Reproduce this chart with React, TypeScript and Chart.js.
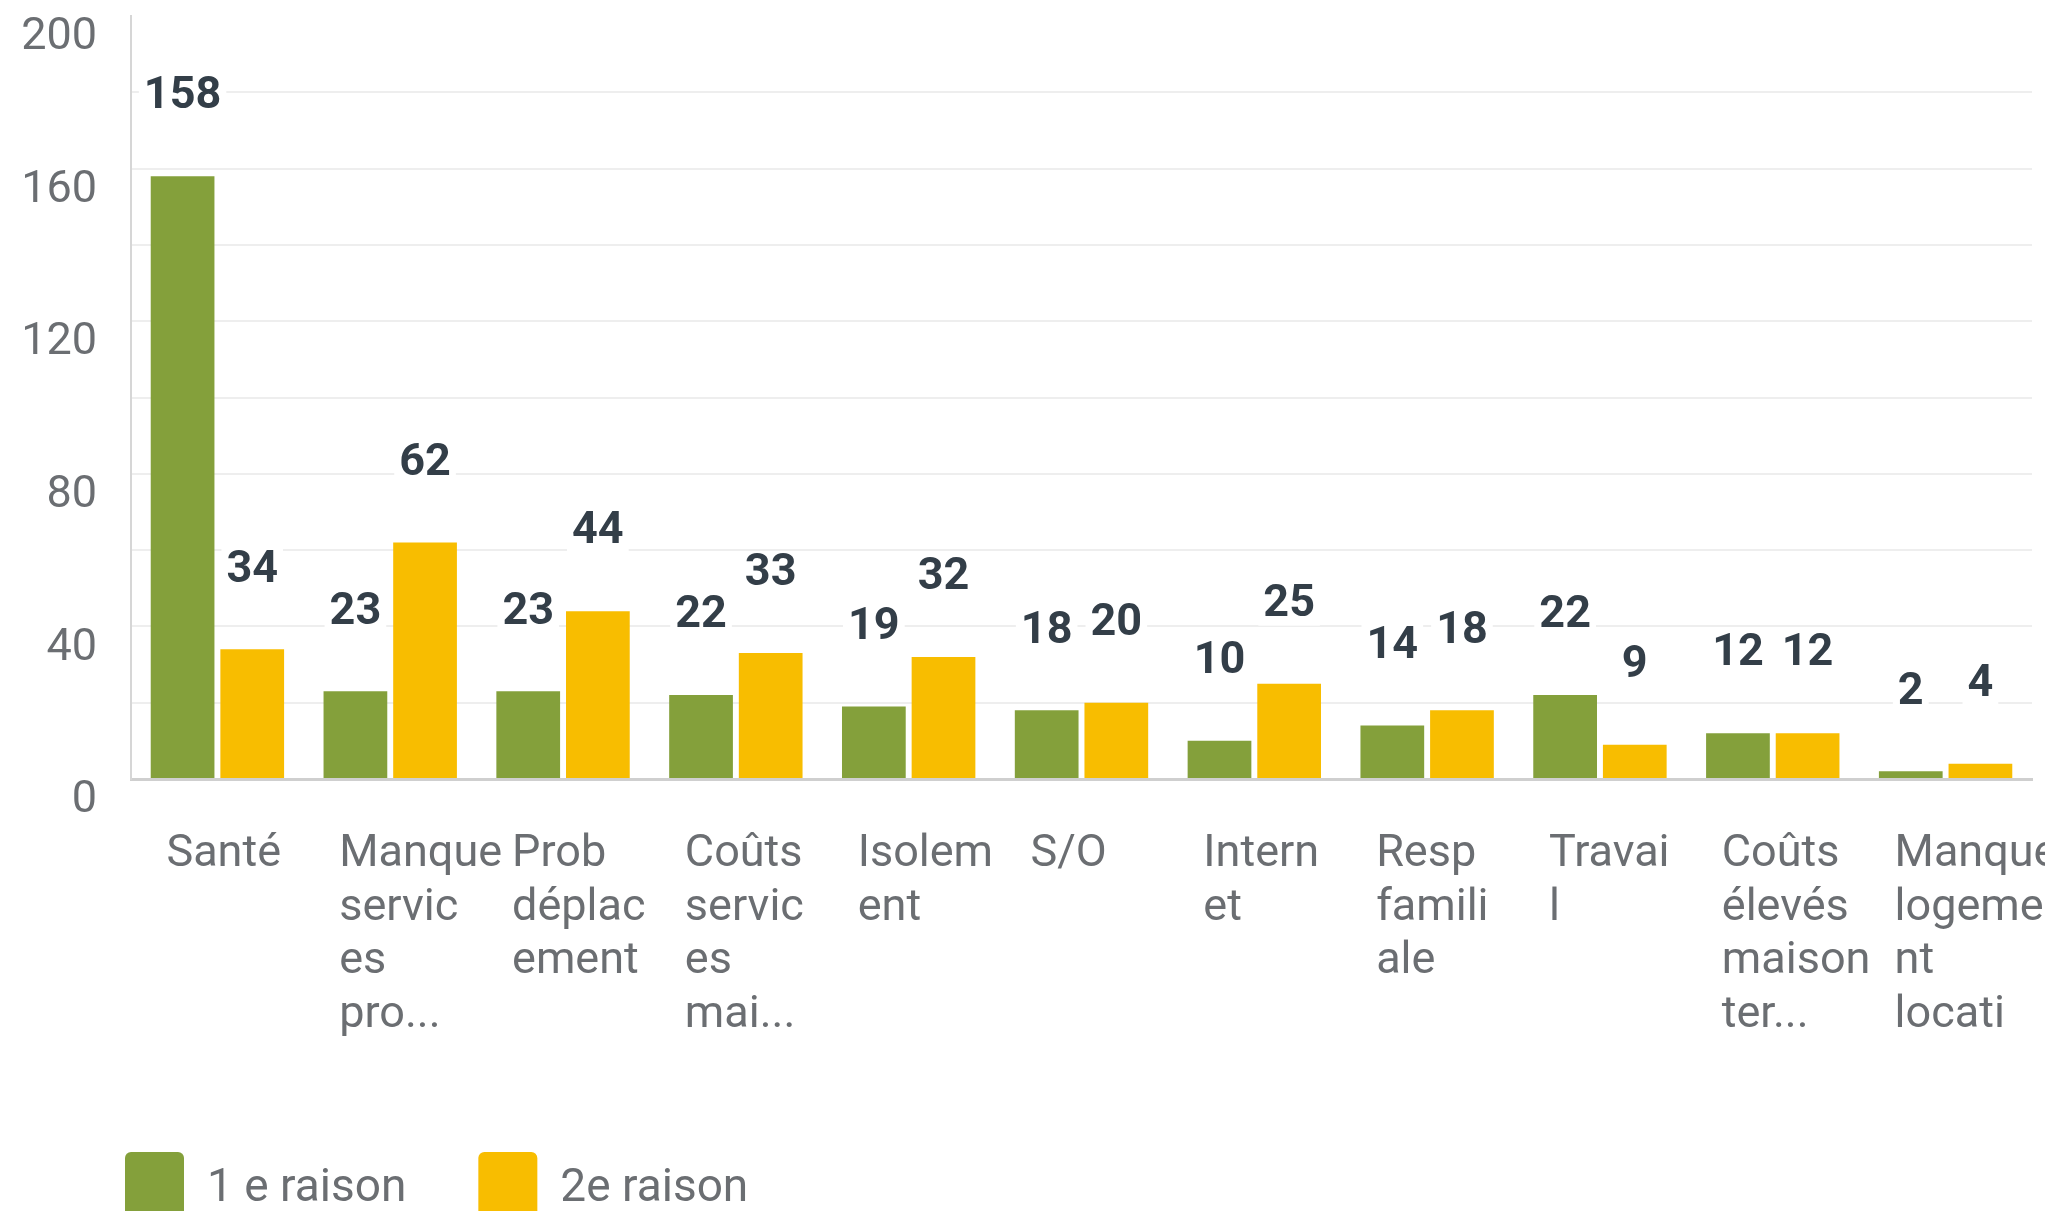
import React, { useEffect, useRef } from 'react';
import { Chart, registerables } from 'chart.js';

Chart.register(...registerables);

const categories: string[][] = [
  ['Santé'],
  ['Manque', 'servic', 'es', 'pro...'],
  ['Prob', 'déplac', 'ement'],
  ['Coûts', 'servic', 'es', 'mai...'],
  ['Isolem', 'ent'],
  ['S/O'],
  ['Intern', 'et'],
  ['Resp', 'famili', 'ale'],
  ['Travai', 'l'],
  ['Coûts', 'élevés', 'maison', 'ter...'],
  ['Manque', 'logeme', 'nt', 'locati'],
];
const firstReason = [158, 23, 23, 22, 19, 18, 10, 14, 22, 12, 2];
const secondReason = [34, 62, 44, 33, 32, 20, 25, 18, 9, 12, 4];
const seriesNames = ['1 e raison', '2e raison'];
const yTickLabels = [0, 40, 80, 120, 160, 200];

const GREEN = '#84a03b';
const YELLOW = '#f8bd00';
const AXIS_TEXT = '#6b6e72';
const VALUE_TEXT = '#333e48';

const valueLabels = {
  id: 'valueLabels',
  afterLayout(chart: any) {
    // legend starts a little to the right of the canvas edge
    const lg = chart.legend;
    if (lg) {
      lg.left = 53;
    }
  },
  afterDatasetsDraw(chart: any) {
    const ctx = chart.ctx as CanvasRenderingContext2D;
    ctx.save();
    ctx.font = 'bold 45px Roboto';
    ctx.textAlign = 'center';
    ctx.textBaseline = 'middle';
    const items: { x: number; y: number; text: string; w: number }[] = [];
    chart.data.datasets.forEach((ds: any, i: number) => {
      const meta = chart.getDatasetMeta(i);
      meta.data.forEach((bar: any, j: number) => {
        const text = String(ds.data[j]);
        items.push({ x: bar.x, y: bar.y - 82, text, w: ctx.measureText(text).width });
      });
    });
    ctx.fillStyle = '#ffffff';
    items.forEach((it) => ctx.fillRect(it.x - it.w / 2 - 5, it.y - 20, it.w + 10, 44));
    ctx.fillStyle = VALUE_TEXT;
    items.forEach((it) => ctx.fillText(it.text, it.x, it.y + 3));
    ctx.restore();
  },
};

export default function App() {
  const ref = useRef<HTMLCanvasElement>(null);

  useEffect(() => {
    if (!ref.current) return;
    Chart.defaults.font.family = 'Roboto';
    const chart = new Chart(ref.current, {
      type: 'bar',
      data: {
        labels: categories,
        datasets: [
          {
            label: seriesNames[0],
            data: firstReason,
            backgroundColor: GREEN,
            borderWidth: 0,
            categoryPercentage: 0.806,
            barPercentage: 0.915,
          },
          {
            label: seriesNames[1],
            data: secondReason,
            backgroundColor: YELLOW,
            borderWidth: 0,
            categoryPercentage: 0.806,
            barPercentage: 0.915,
          },
        ],
      },
      options: {
        responsive: false,
        animation: false,
        devicePixelRatio: 1,
        layout: { padding: { top: 16, left: 0, right: 13, bottom: 0 } },
        plugins: {
          legend: {
            position: 'bottom',
            align: 'start',
            labels: {
              boxWidth: 59,
              boxHeight: 75,
              padding: 72,
              color: AXIS_TEXT,
              font: { size: 46, family: 'Roboto' },
              useBorderRadius: true,
              borderRadius: 6,
            },
          },
          tooltip: { enabled: false },
        },
        scales: {
          x: {
            grid: { display: false, drawTicks: false },
            border: { display: true, color: '#cfcfcf', width: 3 },
            ticks: {
              align: 'start',
              labelOffset: -51,
              padding: 49,
              autoSkip: false,
              maxRotation: 0,
              minRotation: 0,
              color: AXIS_TEXT,
              font: { size: 45, lineHeight: 1.19 },
            },
            afterFit(s: any) {
              s.height = 301;
              s.paddingLeft = 0;
              s.paddingRight = 0;
            },
          },
          y: {
            min: 0,
            max: 200,
            grid: {
              drawTicks: false,
              lineWidth: 2,
              color: (c: any) =>
                c.tick && (c.tick.value === 200 || c.tick.value === 0) ? 'rgba(0,0,0,0)' : '#eeeeee',
            },
            border: { display: true, color: '#d6d6d6', width: 2 },
            ticks: {
              stepSize: 20,
              autoSkip: false,
              padding: 34,
              labelOffset: 22,
              color: AXIS_TEXT,
              font: { size: 45 },
              callback: (v: any) => (yTickLabels.includes(Number(v)) ? String(v) : ''),
            },
            afterFit(s: any) {
              s.width = 131;
              s.paddingTop = 0;
              s.paddingBottom = 0;
            },
          },
        },
      } as any,
      plugins: [valueLabels],
    });
    return () => chart.destroy();
  }, []);

  return (
    <div
      style={{
        position: 'fixed',
        left: 0,
        top: 0,
        width: 2045,
        height: 1211,
        overflow: 'hidden',
        background: '#ffffff',
      }}
    >
      <canvas ref={ref} width={2045} height={1237} style={{ display: 'block', width: 2045, height: 1237 }} />
    </div>
  );
}
